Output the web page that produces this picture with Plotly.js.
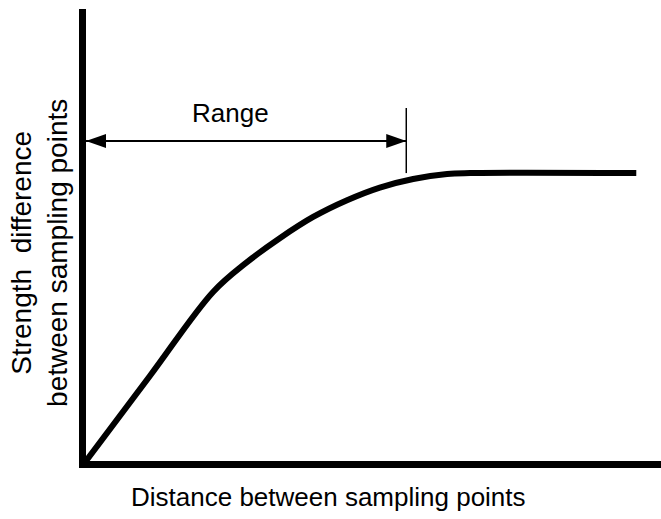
<!DOCTYPE html>
<html>
<head>
<meta charset="utf-8">
<script src="https://cdn.plot.ly/plotly-3.0.1.min.js"></script>
<style>html,body{margin:0;padding:0;background:#fff;}#chart{width:661px;height:519px;}</style>
</head>
<body>
<div id="chart"></div>
<script>
// Curve (semivariogram-like) values, arbitrary units 0-100
const distance = [0, 11.1, 22.1, 28.0, 33.7, 39.5, 45.4, 51.1, 56.9, 62.8, 66.8, 95.7];
const strength = [0, 18.8, 37.4, 44.0, 49.3, 54.0, 57.7, 60.5, 62.4, 63.5, 63.7, 63.7];

// Range annotation values
const rangeStart = 0;
const rangeEnd = 55.7;
const rangeArrowY = 70.8;
const rangeTickTop = 78.1;
const rangeTickBottom = 63.7;
const rangeLabel = "Range";
const rangeLabelX = 25.2;
const rangeLabelY = 77.0;

const xTitle = "Distance between sampling points";
const yTitleLines = ["Strength\u00a0 difference", "between sampling points"];

const fontFam = '"Liberation Sans", Arial, sans-serif';

const trace = {
  x: distance,
  y: strength,
  type: 'scatter',
  mode: 'lines',
  line: {color: '#000', width: 6, shape: 'spline', smoothing: 1},
  hoverinfo: 'skip',
  showlegend: false
};

const axisCommon = {
  range: [0, 100],
  showline: true,
  linewidth: 7,
  linecolor: '#000',
  showgrid: false,
  zeroline: false,
  ticks: '',
  showticklabels: false,
  fixedrange: true
};

const layout = {
  width: 661,
  height: 519,
  margin: {l: 86, r: 0, t: 9, b: 58},
  paper_bgcolor: '#fff',
  plot_bgcolor: '#fff',
  font: {family: fontFam, color: '#000', size: 26},
  xaxis: Object.assign({}, axisCommon),
  yaxis: Object.assign({}, axisCommon),
  shapes: [
    {type: 'line', xref: 'x', yref: 'y', x0: rangeStart, x1: rangeEnd, y0: rangeArrowY, y1: rangeArrowY,
     line: {color: '#000', width: 2}},
    {type: 'line', xref: 'x', yref: 'y', x0: rangeEnd, x1: rangeEnd, y0: rangeTickBottom, y1: rangeTickTop,
     line: {color: '#000', width: 1.5}},
    {type: 'path', xref: 'x', yref: 'y', xsizemode: 'pixel', ysizemode: 'pixel',
     xanchor: rangeStart, yanchor: rangeArrowY, path: 'M0,0 L20,7 L20,-7 Z',
     fillcolor: '#000', line: {color: '#000', width: 0}},
    {type: 'path', xref: 'x', yref: 'y', xsizemode: 'pixel', ysizemode: 'pixel',
     xanchor: rangeEnd, yanchor: rangeArrowY, path: 'M0,0 L-20,7 L-20,-7 Z',
     fillcolor: '#000', line: {color: '#000', width: 0}}
  ],
  annotations: [
    {text: rangeLabel, xref: 'x', yref: 'y', x: rangeLabelX, y: rangeLabelY, showarrow: false,
     font: {size: 26, family: fontFam, color: '#000'}},
    {text: xTitle, xref: 'paper', yref: 'paper', x: 0.421, y: -0.0796, showarrow: false,
     xanchor: 'center', yanchor: 'middle', font: {size: 26, family: fontFam, color: '#000'}},
    {text: yTitleLines.join('<br>'), xref: 'paper', yref: 'paper', x: -0.082, y: 0.46, showarrow: false,
     textangle: -90, xanchor: 'center', yanchor: 'middle', align: 'center',
     font: {size: 28, family: fontFam, color: '#000'}}
  ]
};

Plotly.newPlot('chart', [trace], layout, {staticPlot: true, displayModeBar: false});
</script>
</body>
</html>
